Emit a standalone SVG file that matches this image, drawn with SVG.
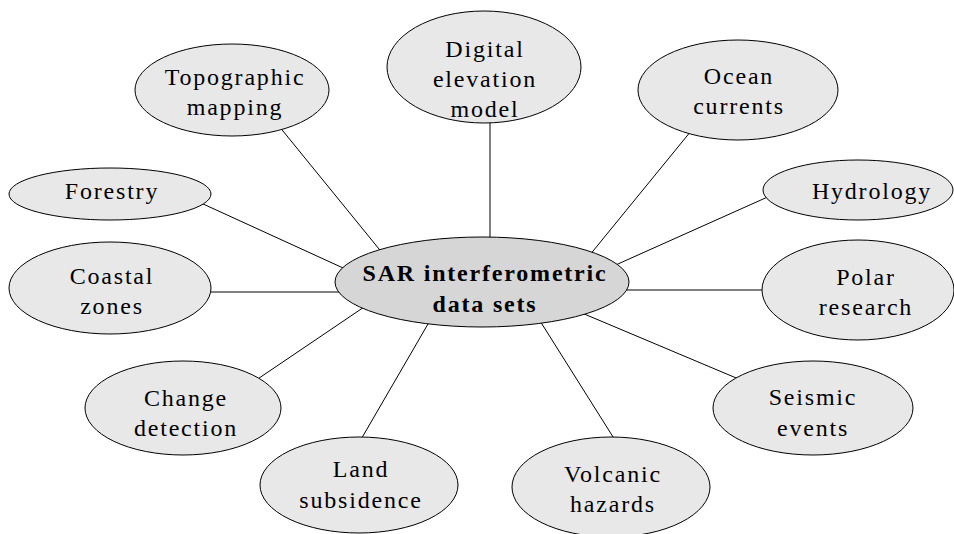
<svg xmlns="http://www.w3.org/2000/svg" width="954" height="534" viewBox="0 0 954 534">
  <style>
    .bg { fill: #ffffff; }
    .link { stroke: #000000; stroke-width: 1; fill: none; }
    .node ellipse { fill: #e8e8e8; stroke: #000000; stroke-width: 1; }
    .hub ellipse { fill: #d6d6d6; stroke: #000000; stroke-width: 1; }
    text { font-family: "Liberation Serif", "Times New Roman", serif; font-size: 24px; letter-spacing: 1.8px; fill: #000000; text-anchor: middle; }
    .hub text { font-weight: bold; }
  </style>
  <rect class="bg" x="0" y="0" width="954" height="534"/>

  <!-- spokes from the central data-set node out to each application -->
  <g id="connectors">
    <line class="link" x1="274" y1="120" x2="388" y2="260"/>
    <line class="link" x1="490" y1="100" x2="490" y2="260"/>
    <line class="link" x1="700" y1="120" x2="580" y2="267"/>
    <line class="link" x1="790" y1="187" x2="600" y2="272"/>
    <line class="link" x1="780" y1="290" x2="600" y2="290"/>
    <line class="link" x1="760" y1="388" x2="570" y2="308"/>
    <line class="link" x1="620" y1="448" x2="530" y2="305"/>
    <line class="link" x1="356" y1="448" x2="439" y2="305"/>
    <line class="link" x1="240" y1="391" x2="370" y2="303"/>
    <line class="link" x1="180" y1="292" x2="380" y2="292"/>
    <line class="link" x1="190" y1="198" x2="365" y2="278"/>
  </g>

  <g id="topographic-mapping" class="node">
    <ellipse cx="232" cy="90" rx="97" ry="46"/>
    <text x="235" y="85">Topographic</text>
    <text x="235" y="115">mapping</text>
  </g>

  <g id="digital-elevation-model" class="node">
    <ellipse cx="484" cy="67" rx="97" ry="56"/>
    <text x="485" y="57">Digital</text>
    <text x="485" y="87">elevation</text>
    <text x="485" y="117">model</text>
  </g>

  <g id="ocean-currents" class="node">
    <ellipse cx="738" cy="90" rx="100" ry="50"/>
    <text x="739" y="84">Ocean</text>
    <text x="739" y="114">currents</text>
  </g>

  <g id="forestry" class="node">
    <ellipse cx="110" cy="194" rx="101" ry="26"/>
    <text x="112" y="199">Forestry</text>
  </g>

  <g id="hydrology" class="node">
    <ellipse cx="858" cy="190" rx="95" ry="30"/>
    <text x="872" y="199">Hydrology</text>
  </g>

  <g id="coastal-zones" class="node">
    <ellipse cx="110" cy="288" rx="101" ry="46"/>
    <text x="112" y="284">Coastal</text>
    <text x="112" y="314">zones</text>
  </g>

  <g id="polar-research" class="node">
    <ellipse cx="858" cy="290" rx="96" ry="50"/>
    <text x="866" y="285">Polar</text>
    <text x="866" y="315">research</text>
  </g>

  <g id="change-detection" class="node">
    <ellipse cx="183" cy="408" rx="98" ry="47"/>
    <text x="186" y="406">Change</text>
    <text x="186" y="436">detection</text>
  </g>

  <g id="land-subsidence" class="node">
    <ellipse cx="359" cy="485" rx="99" ry="48"/>
    <text x="361" y="477">Land</text>
    <text x="361" y="508">subsidence</text>
  </g>

  <g id="volcanic-hazards" class="node">
    <ellipse cx="611" cy="487" rx="99" ry="50"/>
    <text x="613" y="482">Volcanic</text>
    <text x="613" y="512">hazards</text>
  </g>

  <g id="seismic-events" class="node">
    <ellipse cx="813" cy="408" rx="100" ry="47"/>
    <text x="813" y="405">Seismic</text>
    <text x="813" y="436">events</text>
  </g>

  <g id="sar-interferometric-data-sets" class="hub">
    <ellipse cx="482" cy="282" rx="147" ry="45"/>
    <text x="485" y="281">SAR interferometric</text>
    <text x="485" y="312">data sets</text>
  </g>
</svg>
